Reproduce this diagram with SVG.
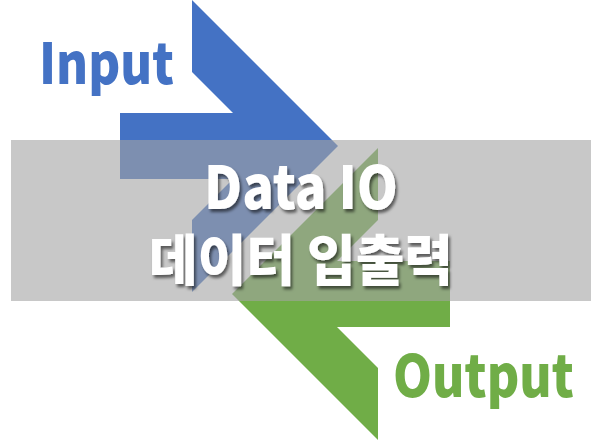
<svg xmlns="http://www.w3.org/2000/svg" width="609" height="445" viewBox="0 0 609 445">
  <defs>
    <filter id="shadow" x="-10%" y="-10%" width="130%" height="140%">
      <feDropShadow dx="2" dy="3" stdDeviation="1.5" flood-color="#000" flood-opacity="0.55"/>
    </filter>
  </defs>
  <style>
    .title { font-family: "Noto Sans CJK KR", "Noto Sans", sans-serif; font-weight: 900; fill: #ffffff; filter: url(#shadow); }
    .label { font-family: "Noto Sans CJK KR", "Noto Sans", sans-serif; font-weight: 900; }
  </style>
  <rect width="609" height="445" fill="#ffffff"/>
  <g id="input-arrow">
    <polygon points="192,0 338,146 192,292 192,220 233,179 120,179 120,113 233,113 192,72" fill="#4472C4"/>
  </g>
  <g id="output-arrow">
    <polygon points="378,440 232,294 378,148 378,220 337,261 450,261 450,327 337,327 378,368" fill="#70AD47"/>
  </g>
  <g id="band">
    <rect x="11" y="140" width="580" height="161" fill="#a3a3a3" fill-opacity="0.6"/>
  </g>
  <g id="title">
    <text class="title" x="204" y="209" font-size="59" textLength="194" lengthAdjust="spacingAndGlyphs">Data IO</text>
    <text class="title" x="149" y="280" font-size="55" textLength="304" lengthAdjust="spacingAndGlyphs">데이터 입출력</text>
  </g>
  <g id="input-label">
    <text class="label" x="39" y="84" font-size="57" fill="#4472C4" textLength="135" lengthAdjust="spacingAndGlyphs">Input</text>
  </g>
  <g id="output-label">
    <text class="label" x="393" y="397" font-size="58" fill="#70AD47" textLength="181" lengthAdjust="spacingAndGlyphs">Output</text>
  </g>
</svg>
